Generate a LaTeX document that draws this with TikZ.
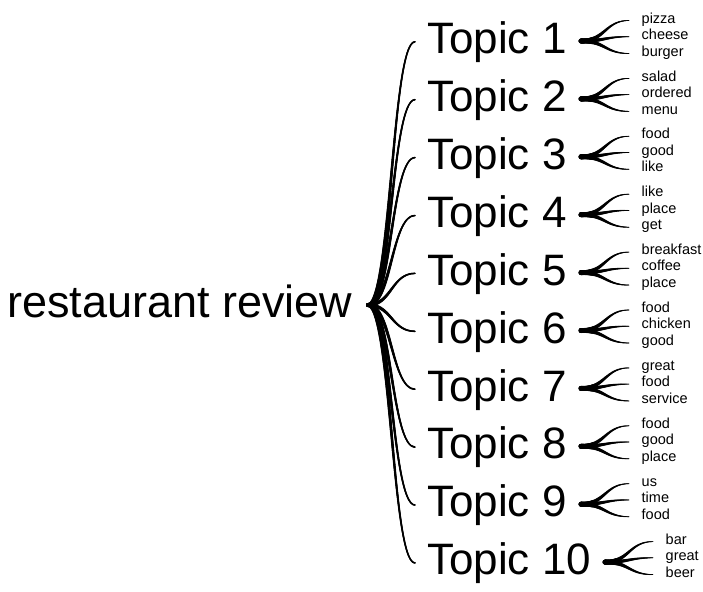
\documentclass[tikz,border=0pt]{standalone}
\usepackage{fontspec}
\setmainfont{Liberation Sans}
\usetikzlibrary{decorations.markings}
\tikzset{
  taper/.style 2 args={line width=#2pt, line cap=round,
    postaction={decorate, decoration={markings,
      mark=between positions 0 and 1 step 0.5pt with {
        \pgfmathsetmacro\tr{(#1+(#2-#1)*\pgfkeysvalueof{/pgf/decoration/mark info/distance from start}/\pgfdecoratedpathlength)/2}
        \fill (0,0) circle[radius=\tr pt];}}}},
  roottext/.style={font=\fontsize{45}{54}\selectfont, inner sep=0pt},
  topictext/.style={font=\fontsize{44}{52}\selectfont, inner sep=0pt},
  wordtext/.style={font=\fontsize{14.5}{17}\selectfont, inner sep=0pt},
}
\begin{document}
\begin{tikzpicture}[x=1pt,y=-1pt]
\useasboundingbox (0,0) rectangle (703,591);
\node[roottext, anchor=base east] (rootlabel) at (352.5,317) {restaurant review};
\coordinate (root) at (368,305);
\coordinate (rm) at (391.5,0);
\foreach \i/\a/\b/\c in {1/pizza/cheese/burger, 2/salad/ordered/menu, 3/food/good/like, 4/like/place/get, 5/breakfast/coffee/place, 6/food/chicken/good, 7/great/food/service, 8/food/good/place, 9/us/time/food, 10/bar/great/beer}{
  \pgfmathsetmacro\y{37.5+57.9*(\i-1)}
  \pgfmathsetmacro\xs{\i==10 ? 603 : 579}
  \node[topictext, anchor=base west] (topic\i) at (427,\y+16.1) {Topic \i};
  \coordinate (tin\i) at (415,\y+4.3);
  \coordinate (tout\i) at (\xs+2,\y+3.5);
  \coordinate (tm\i) at (\xs+26,0);
  \coordinate (la\i) at (\xs+50,\y-17);
  \coordinate (lb\i) at (\xs+50,\y-0.8);
  \coordinate (lc\i) at (\xs+50,\y+16);
  \node[wordtext, anchor=mid west] (wa\i) at (\xs+62.5,\y-17) {\a};
  \node[wordtext, anchor=mid west] (wb\i) at (\xs+62.5,\y-0.8) {\b};
  \node[wordtext, anchor=mid west] (wc\i) at (\xs+62.5,\y+16) {\c};
  \draw[taper={4}{1.5}] (root) .. controls (root -| rm) and (tin\i -| rm) .. (tin\i);
  \draw[taper={5}{0.7}] (tout\i) .. controls (tout\i -| tm\i) and (la\i -| tm\i) .. (la\i);
  \draw[taper={5}{0.7}] (tout\i) .. controls (tout\i -| tm\i) and (lb\i -| tm\i) .. (lb\i);
  \draw[taper={5}{0.7}] (tout\i) .. controls (tout\i -| tm\i) and (lc\i -| tm\i) .. (lc\i);
}
\end{tikzpicture}
\end{document}
